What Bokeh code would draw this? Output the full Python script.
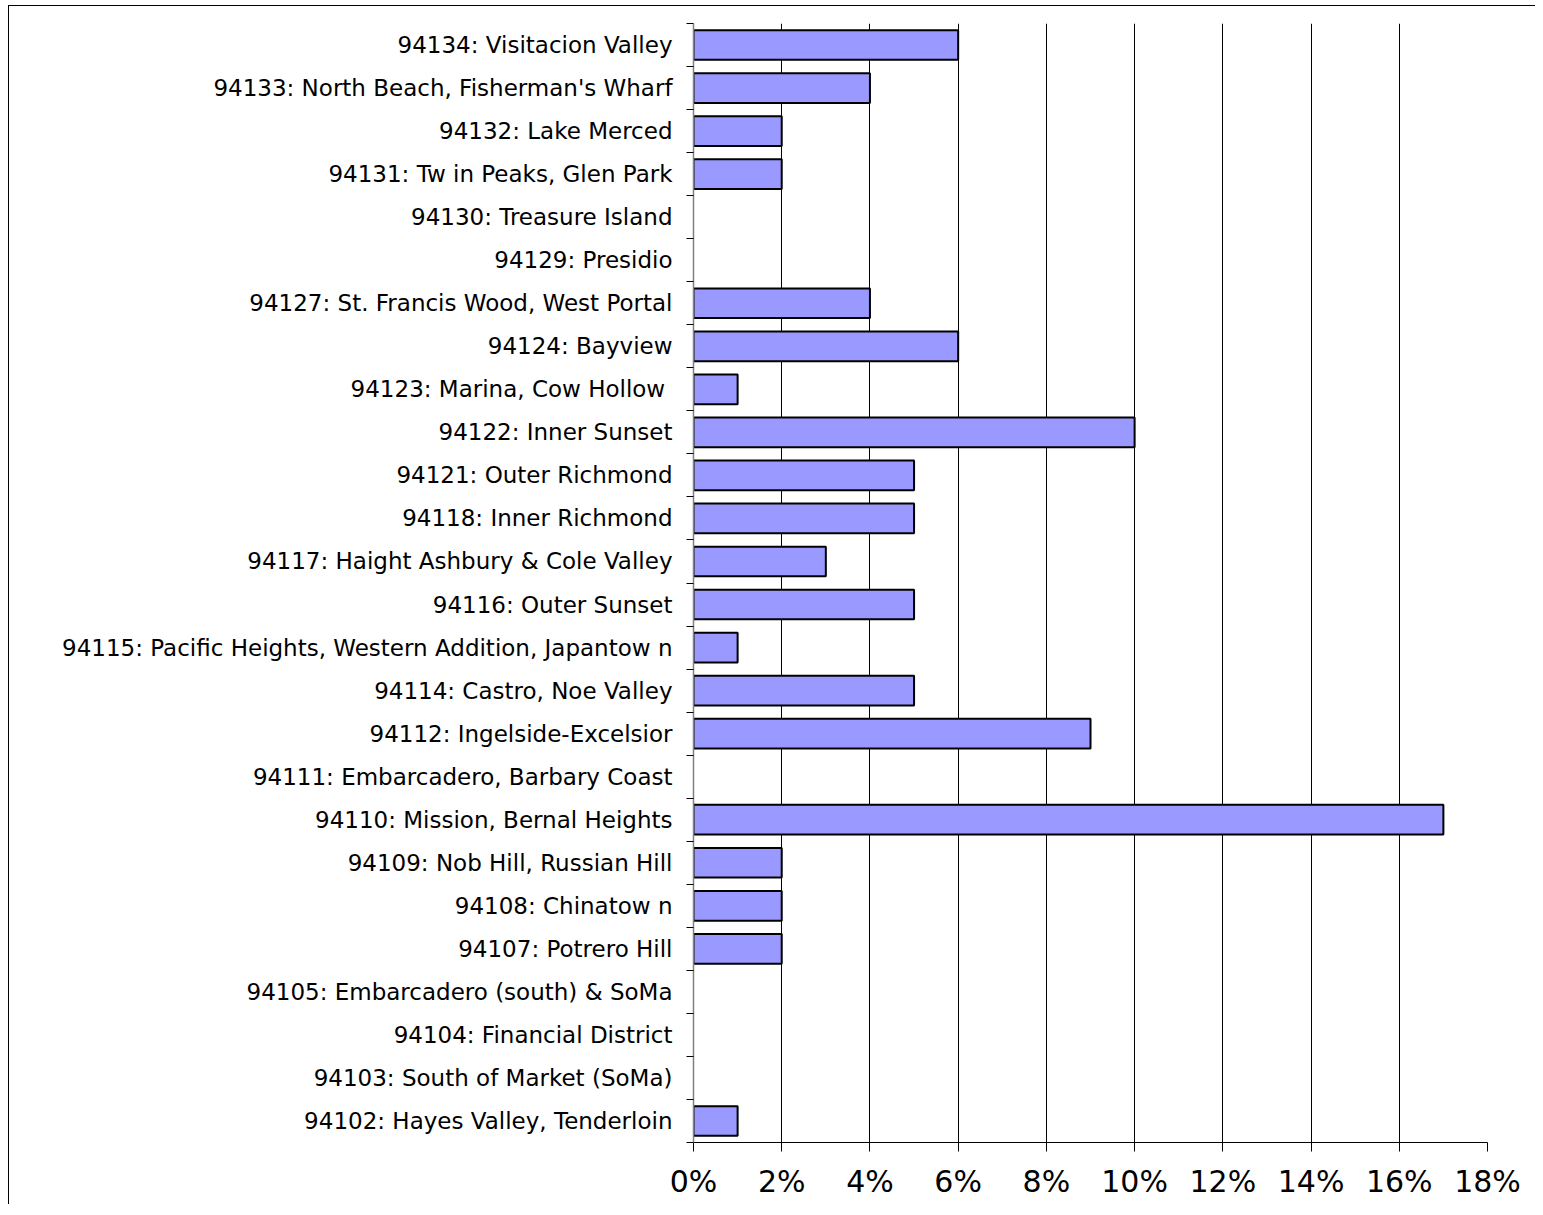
from bokeh.plotting import figure
from bokeh.models import Range1d, FixedTicker, PrintfTickFormatter, ColumnDataSource
from bokeh.embed import file_html
from bokeh.resources import INLINE

# Categories listed top to bottom
categories = [
    "94134: Visitacion Valley",
    "94133: North Beach, Fisherman's Wharf",
    "94132: Lake Merced",
    "94131: Tw in Peaks, Glen Park",
    "94130: Treasure Island",
    "94129: Presidio",
    "94127: St. Francis Wood, West Portal",
    "94124: Bayview",
    "94123: Marina, Cow  Hollow",
    "94122: Inner Sunset",
    "94121: Outer Richmond",
    "94118: Inner Richmond",
    "94117: Haight Ashbury & Cole Valley",
    "94116: Outer Sunset",
    "94115: Pacific Heights, Western Addition, Japantow n",
    "94114: Castro, Noe Valley",
    "94112: Ingelside-Excelsior",
    "94111: Embarcadero, Barbary Coast",
    "94110: Mission, Bernal Heights",
    "94109: Nob Hill, Russian Hill",
    "94108: Chinatow n",
    "94107: Potrero Hill",
    "94105: Embarcadero (south) & SoMa",
    "94104: Financial District",
    "94103: South of Market (SoMa)",
    "94102: Hayes Valley, Tenderloin",
]
# Percent values
percents = [6, 4, 2, 2, 0, 0, 4, 6, 1, 10, 5, 5, 3, 5, 1, 5, 9, 0, 17, 2, 2, 2, 0, 0, 0, 1]
x_ticks = [0, 2, 4, 6, 8, 10, 12, 14, 16, 18]

n = len(categories)
centers = [n - i - 0.5 for i in range(n)]
bounds = list(range(n + 1))
outline = ["black" if v > 0 else None for v in percents]

src = ColumnDataSource(dict(y=centers, right=percents, name=categories, lc=outline))

p = figure(width=1527, height=1199, output_backend="svg", toolbar_location=None,
           x_range=Range1d(0, 18), y_range=Range1d(0, n),
           min_border_left=684, min_border_right=49, min_border_top=17,
           min_border_bottom=63)
p.styles = {"border-left": "1px solid black", "border-top": "1px solid black",
            "margin-left": "8px", "margin-top": "5px"}
p.outline_line_color = None
p.background_fill_color = "white"
p.border_fill_color = "white"

p.hbar(y="y", left=0, right="right", height=0.69, source=src,
       fill_color="#9999FF", line_color="lc", line_width=2)

# x axis
p.xaxis.ticker = FixedTicker(ticks=x_ticks)
p.xaxis.formatter = PrintfTickFormatter(format="%d%%")
p.xaxis.major_label_text_font = "DejaVu Sans"
p.xaxis.major_label_text_font_size = "30px"
p.xaxis.major_label_text_color = "black"
p.xaxis.axis_line_color = "black"
p.xaxis.major_tick_line_color = "black"
p.xaxis.major_tick_out = 9
p.xaxis.major_tick_in = 0
p.xaxis.minor_tick_line_color = None
p.xaxis.major_label_standoff = 12

# y axis
p.yaxis.ticker = FixedTicker(ticks=centers, minor_ticks=bounds)
p.yaxis.major_label_overrides = {c: name for c, name in zip(centers, categories)}
p.yaxis.major_label_text_font = "DejaVu Sans"
p.yaxis.major_label_text_font_size = "23px"
p.yaxis.major_label_text_color = "black"
p.yaxis.axis_line_color = "#808080"
p.yaxis.axis_line_width = 1.5
p.yaxis.major_tick_line_color = None
p.yaxis.major_tick_out = 0
p.yaxis.major_tick_in = 0
p.yaxis.minor_tick_line_color = "black"
p.yaxis.minor_tick_out = 7
p.yaxis.minor_tick_in = 0
p.yaxis.major_label_standoff = 14

# grid
p.xgrid.ticker = FixedTicker(ticks=x_ticks[1:])
p.xgrid.grid_line_color = "black"
p.xgrid.grid_line_width = 1
p.ygrid.grid_line_color = None

open("out.html", "w").write(file_html(p, INLINE))
